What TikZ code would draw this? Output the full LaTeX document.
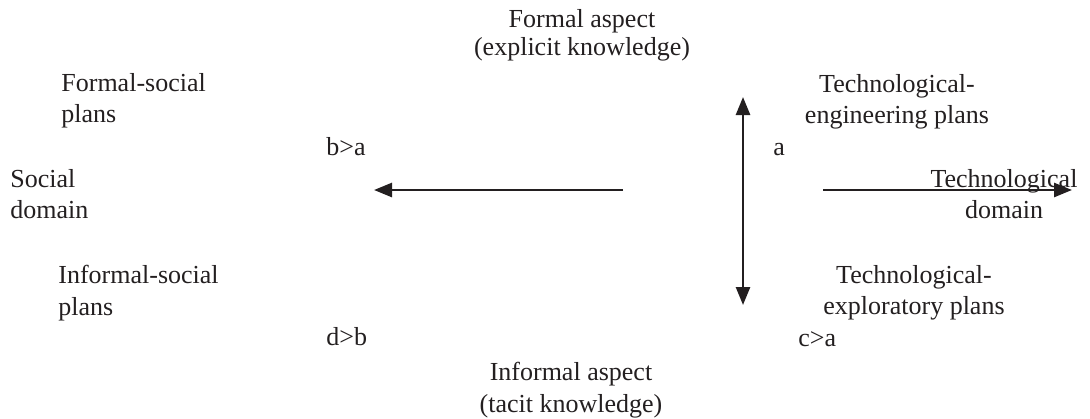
\documentclass[tikz,border=0pt]{standalone}
\usepackage{fontspec}
\setmainfont{Liberation Serif}
\usepackage{tikz}
\usetikzlibrary{arrows.meta}
\definecolor{inkc}{RGB}{35,31,32}

\begin{document}
\begin{tikzpicture}[x=0.5pt,y=-0.5pt,
  every node/.style={font=\fontsize{13}{15.75}\selectfont, text=inkc, inner sep=0pt},
  axarr/.style={draw=inkc, line width=1.3pt, -{Triangle[length=9pt,width=7pt]}}]
  \useasboundingbox (0,0) rectangle (1090,418);
  % aspects (top / bottom)
  \node[anchor=north, align=center] (formal) at (582,9) {Formal aspect\\[-1.5pt](explicit knowledge)};
  \node[anchor=north, align=center] (informal) at (571,362) {Informal aspect\\(tacit knowledge)};
  % social side
  \node[anchor=north west, align=left] (fsoc) at (61,73) {Formal-social\\plans};
  \node[anchor=north west, align=left] (social) at (10,169) {Social\\domain};
  \node[anchor=north west, align=left] (isoc) at (58,265) {Informal-social\\plans};
  \node[anchor=base west] (ba) at (326,155) {b>a};
  \node[anchor=base west] (db) at (326,345) {d>b};
  % technological side
  \node[anchor=north, align=center] (teng) at (897,74) {Technological-\\engineering plans};
  \node[anchor=north, align=center] (tdom) at (1004,169) {Technological\\domain};
  \node[anchor=north, align=center] (texp) at (914,265) {Technological-\\exploratory plans};
  \node[anchor=base west] (a) at (773,155) {a};
  \node[anchor=base west] (ca) at (798,346) {c>a};
  % axes
  \coordinate (lt) at (623,190); \coordinate (lh) at (374,190);
  \coordinate (rt) at (823,190); \coordinate (rh) at (1072,190);
  \coordinate (vt) at (743,97);  \coordinate (vb) at (743,305);
  \draw[axarr] (lt) -- (lh);
  \draw[axarr] (rt) -- (rh);
  \draw[axarr, {Triangle[length=9pt,width=7pt]}-{Triangle[length=9pt,width=7pt]}] (vt) -- (vb);
\end{tikzpicture}
\end{document}
